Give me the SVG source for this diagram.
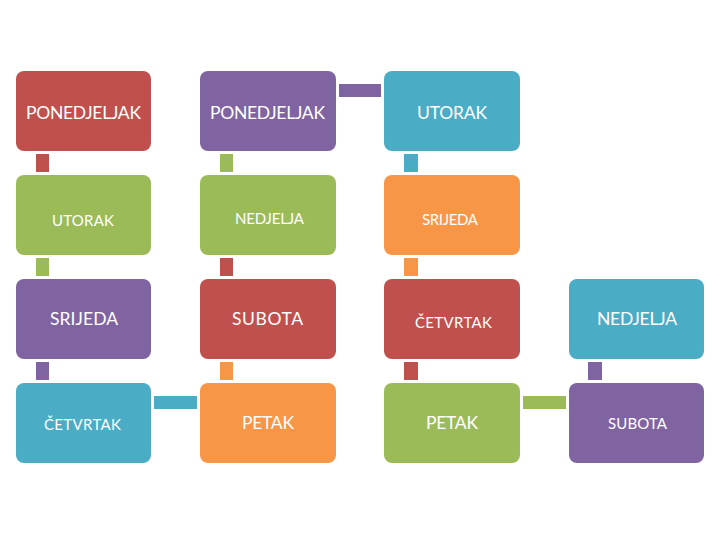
<svg xmlns="http://www.w3.org/2000/svg" width="720" height="540" viewBox="0 0 720 540">
<style>
.r{fill:#C0504D}.g{fill:#9BBB59}.p{fill:#8064A2}.b{fill:#4BACC6}.o{fill:#F79646}
text{fill:#FFFFFF;font-family:Lato,"Liberation Sans",Arial,sans-serif;text-anchor:middle}
.L{font-size:17.5px}.S{font-size:15px}
</style>
<rect width="720" height="540" fill="#FFFFFF"/>
<g id="connectors">
<rect class="r" x="36" y="154" width="13" height="18"/>
<rect class="g" x="36" y="258" width="13" height="18"/>
<rect class="p" x="36" y="362" width="13" height="18"/>
<rect class="g" x="220" y="154" width="13" height="18"/>
<rect class="r" x="220" y="258" width="13" height="18"/>
<rect class="o" x="220" y="362" width="13" height="18"/>
<rect class="b" x="404" y="154" width="14" height="18"/>
<rect class="o" x="404" y="258" width="14" height="18"/>
<rect class="r" x="404" y="362" width="14" height="18"/>
<rect class="p" x="588" y="362" width="14" height="18"/>
<rect class="p" x="339" y="84" width="42" height="13"/>
<rect class="b" x="154" y="396" width="43" height="13"/>
<rect class="g" x="523" y="396" width="43" height="13"/>
</g>
<g id="n1"><rect class="r" x="16" y="71" width="135" height="80" rx="8"/><text class="L" x="83.5" y="119" textLength="115">PONEDJELJAK</text></g>
<g id="n2"><rect class="g" x="16" y="175" width="135" height="80" rx="8"/><text class="S" x="83" y="225.5" textLength="62">UTORAK</text></g>
<g id="n3"><rect class="p" x="16" y="279" width="135" height="80" rx="8"/><text class="L" x="84" y="325" textLength="68">SRIJEDA</text></g>
<g id="n4"><rect class="b" x="16" y="383" width="135" height="80" rx="8"/><text class="S" x="82.5" y="429.5" textLength="77">ČETVRTAK</text></g>
<g id="n5"><rect class="p" x="200" y="71" width="136" height="80" rx="8"/><text class="L" x="267.5" y="119" textLength="115">PONEDJELJAK</text></g>
<g id="n6"><rect class="g" x="200" y="175" width="136" height="80" rx="8"/><text class="S" x="269.5" y="223.5" textLength="69">NEDJELJA</text></g>
<g id="n7"><rect class="r" x="200" y="279" width="136" height="80" rx="8"/><text class="L" x="267.5" y="325" textLength="71">SUBOTA</text></g>
<g id="n8"><rect class="o" x="200" y="383" width="136" height="80" rx="8"/><text class="L" x="268" y="429" textLength="52">PETAK</text></g>
<g id="n9"><rect class="b" x="384" y="71" width="136" height="80" rx="8"/><text class="L" x="452" y="118.5" textLength="70">UTORAK</text></g>
<g id="n10"><rect class="o" x="384" y="175" width="136" height="80" rx="8"/><text class="S" x="450" y="225" textLength="56">SRIJEDA</text></g>
<g id="n11"><rect class="r" x="384" y="279" width="136" height="80" rx="8"/><text class="S" x="453.5" y="327.5" textLength="77">ČETVRTAK</text></g>
<g id="n12"><rect class="g" x="384" y="383" width="136" height="80" rx="8"/><text class="L" x="452" y="429" textLength="52">PETAK</text></g>
<g id="n13"><rect class="b" x="569" y="279" width="135" height="80" rx="8"/><text class="L" x="637" y="325" textLength="80">NEDJELJA</text></g>
<g id="n14"><rect class="p" x="569" y="383" width="135" height="80" rx="8"/><text class="S" x="637.5" y="429" textLength="59">SUBOTA</text></g>
</svg>
